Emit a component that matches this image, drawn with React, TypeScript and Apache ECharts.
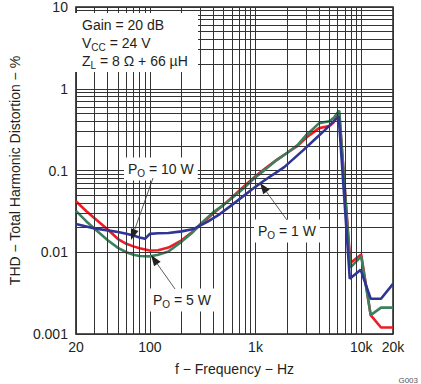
import React, { useEffect, useRef } from "react";
import * as echarts from "echarts";

// Po = 10 W (red)
const redFreq = [20, 25, 30, 40, 50, 60, 70, 80, 100, 120, 150, 200, 250, 300, 400, 500, 600, 800, 1000, 1250, 1600, 2000, 2500, 3000, 3300, 4000, 5000, 5500, 6200, 7900, 10000, 12300, 15400, 20000];
const redThd = [0.042, 0.032, 0.026, 0.019, 0.0145, 0.0127, 0.0118, 0.0112, 0.0105, 0.0106, 0.0114, 0.014, 0.0175, 0.0215, 0.03, 0.038, 0.047, 0.066, 0.085, 0.107, 0.136, 0.165, 0.2, 0.25, 0.275, 0.33, 0.35, 0.39, 0.5, 0.0074, 0.0094, 0.0017, 0.0012, 0.0012];

// Po = 5 W (green)
const greenFreq = [20, 25, 30, 40, 50, 60, 70, 80, 100, 120, 150, 200, 250, 300, 400, 500, 600, 800, 1000, 1250, 1600, 2000, 2500, 3000, 3300, 4000, 5000, 5500, 6200, 7900, 10000, 12300, 15400, 20000];
const greenThd = [0.032, 0.024, 0.0194, 0.014, 0.0113, 0.01, 0.0093, 0.009, 0.0089, 0.0093, 0.0102, 0.0135, 0.0172, 0.022, 0.031, 0.038, 0.046, 0.063, 0.083, 0.104, 0.135, 0.165, 0.205, 0.27, 0.3, 0.38, 0.4, 0.44, 0.54, 0.0065, 0.0089, 0.0017, 0.0021, 0.0021];

// Po = 1 W (blue)
const blueFreq = [20, 30, 40, 50, 60, 70, 80, 90, 100, 120, 150, 200, 260, 350, 460, 600, 930, 1200, 1870, 2800, 3760, 4500, 6130, 7800, 9900, 12300, 15400, 20000];
const blueThd = [0.0222, 0.0195, 0.0185, 0.0177, 0.0168, 0.016, 0.0152, 0.0146, 0.0168, 0.0171, 0.0172, 0.018, 0.0193, 0.0235, 0.0293, 0.038, 0.059, 0.075, 0.11, 0.175, 0.25, 0.31, 0.46, 0.00475, 0.0061, 0.0027, 0.0027, 0.0041];

const xTickLabels = ["20", "100", "1k", "10k", "20k"];
const yTickLabels = ["0.001", "0.01", "0.1", "1", "10"];

const FONT = "'Liberation Sans', Arial, sans-serif";
const TXT = "#231f20";
const GRID = "#333333";

function pairs(f: number[], v: number[]) {
  return f.map((x, i) => [x, v[i]]);
}

function arrow(sx: number, sy: number, tx: number, ty: number) {
  const dx = tx - sx, dy = ty - sy;
  const L = Math.hypot(dx, dy);
  const ux = dx / L, uy = dy / L;
  const len = 11, half = 4;
  const bx = tx - ux * len, by = ty - uy * len;
  const nx = -uy, ny = ux;
  return [
    { type: "line", z: 100, shape: { x1: sx, y1: sy, x2: bx, y2: by }, style: { stroke: "#333", lineWidth: 0.8 } },
    { type: "polygon", z: 100, shape: { points: [[tx, ty], [bx + nx * half, by + ny * half], [bx - nx * half, by - ny * half]] }, style: { fill: "#222" } },
  ];
}

const rich = {
  n: { fontSize: 14, fontFamily: FONT, color: TXT },
  s: { fontSize: 10, fontFamily: FONT, color: TXT, padding: [9, 0, 0, 0] },
};

function label(x: number, y: number, text: string, bg = true) {
  return {
    type: "text", z: 100, x, y,
    style: {
      text, rich, fill: TXT, font: `14px ${FONT}`, verticalAlign: "middle", align: "left",
      backgroundColor: bg ? "#fff" : undefined, padding: bg ? [2, 4, 2, 4] : 0,
    },
  };
}

export default function App() {
  const ref = useRef<HTMLDivElement>(null);
  useEffect(() => {
    document.body.style.margin = "0";
    const chart = echarts.init(ref.current!, null, { renderer: "svg" });

    const xMinor: number[] = [];
    [10, 100, 1000].forEach((d) => { for (let k = 2; k <= 9; k++) if (k * d > 20) xMinor.push(k * d); });
    const yMinor: number[] = [];
    [0.001, 0.01, 0.1, 1].forEach((d) => { for (let k = 2; k <= 9; k++) yMinor.push(+(k * d).toPrecision(3)); });

    const option: any = {
      animation: false,
      grid: { left: 64, top: 5, width: 329, height: 329, show: true, borderColor: "#222", borderWidth: 1.5, backgroundColor: "#fff", z: 0 },
      xAxis: {
        type: "log", logBase: 10, min: 20, max: 20000,
        axisLine: { show: false }, axisTick: { show: false },
        splitLine: { show: true, lineStyle: { color: GRID, width: 1 } },
        axisLabel: {
          margin: 6, color: TXT, fontSize: 14, fontFamily: FONT, showMinLabel: true, showMaxLabel: true,
          formatter: (v: number) => {
            const r = Math.round(v);
            const s = r >= 1000 ? r / 1000 + "k" : String(r);
            return xTickLabels.includes(s) ? s : "";
          },
        },
        name: "f − Frequency − Hz", nameLocation: "middle", nameGap: 28,
        nameTextStyle: { color: TXT, fontSize: 14, fontFamily: FONT },
      },
      yAxis: {
        type: "log", logBase: 10, min: 0.001, max: 10,
        axisLine: { show: false }, axisTick: { show: false },
        splitLine: { show: true, lineStyle: { color: GRID, width: 1 } },
        axisLabel: {
          margin: 8, color: TXT, fontSize: 14, fontFamily: FONT,
          formatter: (v: number) => {
            const e = Math.round(Math.log10(v));
            const s = e >= 0 ? String(Math.pow(10, e)) : Math.pow(10, e).toFixed(-e);
            return yTickLabels.includes(s) ? s : "";
          },
        },
        name: "THD − Total Harmonic Distortion − %", nameLocation: "middle", nameGap: 45,
        nameTextStyle: { color: TXT, fontSize: 14, fontFamily: FONT },
      },
      series: [
        {
          type: "line", data: [], z: 1, silent: true,
          markLine: {
            silent: true, symbol: ["none", "none"], label: { show: false }, animation: false,
            lineStyle: { color: GRID, width: 1, type: "solid" },
            emphasis: { disabled: true },
            data: [...xMinor.map((x) => ({ xAxis: x })), ...yMinor.map((y) => ({ yAxis: y }))],
          },
        },
        { name: "Po = 10 W", type: "line", z: 3, data: pairs(redFreq, redThd), symbol: "none", lineStyle: { color: "#ee1d25", width: 2.6 } },
        { name: "Po = 5 W", type: "line", z: 4, data: pairs(greenFreq, greenThd), symbol: "none", lineStyle: { color: "#3e7f5e", width: 2.6 } },
        { name: "Po = 1 W", type: "line", z: 5, data: pairs(blueFreq, blueThd), symbol: "none", lineStyle: { color: "#2e3593", width: 2.6 } },
      ],
      graphic: [
        { type: "rect", z: 99, shape: { x: 75, y: 13, width: 123, height: 59 }, style: { fill: "#fff" } },
        label(82, 25, "{n|Gain = 20 dB}", false),
        label(82, 43, "{n|V}{s|CC}{n| = 24 V}", false),
        label(82, 61, "{n|Z}{s|L}{n| = 8 Ω + 66 µH}", false),
        label(124, 169, "{n|P}{s|O}{n| = 10 W}"),
        label(149, 300, "{n|P}{s|O}{n| = 5 W}"),
        label(254, 231, "{n|P}{s|O}{n| = 1 W}"),
        ...arrow(153, 178, 131, 240),
        ...arrow(175, 289, 151, 255),
        ...arrow(287, 220, 260, 183),
        { type: "text", z: 100, x: 418, y: 380, style: { text: "G003", fill: "#555", font: `8px ${FONT}`, align: "right", verticalAlign: "middle" } },
      ],
    };
    chart.setOption(option);
    return () => chart.dispose();
  }, []);
  return <div ref={ref} style={{ width: 421, height: 384 }} />;
}
